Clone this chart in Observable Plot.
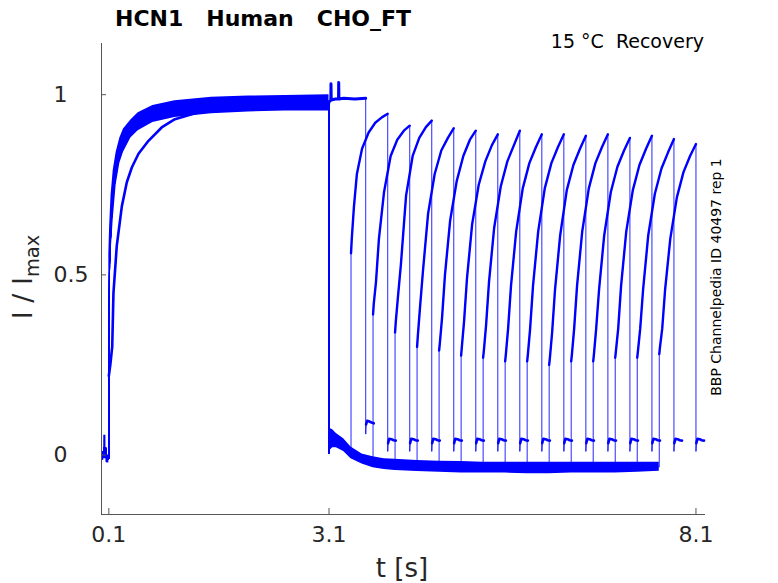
<!DOCTYPE html>
<html><head><meta charset="utf-8">
<script src="https://cdn.jsdelivr.net/npm/d3@7"></script>
<script src="https://cdn.jsdelivr.net/npm/@observablehq/plot@0.6"></script>
<style>
body{margin:0;background:#fff;font-family:"DejaVu Sans",sans-serif;}
#wrap{position:relative;width:778px;height:583px;overflow:hidden;}
.t{position:absolute;white-space:pre;line-height:1;color:#000;}
</style></head><body>
<div id="wrap">
<div id="chart"></div>
<div class="t" style="left:115px;top:8px;font-size:22px;font-weight:bold;">HCN1   Human   CHO_FT</div>
<div class="t" style="right:74px;top:31.5px;font-size:19px;">15 °C  Recovery</div>
<div class="t" style="left:402px;top:555px;font-size:26px;color:#262626;transform:translateX(-50%);">t [s]</div>
<div class="t" style="left:22px;top:277px;font-size:27px;color:#262626;transform:translate(-50%,-50%) rotate(-90deg);">I / I<span style="font-size:0.72em;position:relative;top:0.35em;">max</span></div>
<div class="t" style="left:716px;top:277px;font-size:14px;transform:translate(-50%,-50%) rotate(-90deg);">BBP Channelpedia ID 40497 rep 1</div>
</div>
<script>
// ---- data ----
const xTicks = [0.1, 3.1, 8.1];
const yTicks = [0, 0.5, 1];

// baseline before the first step
const preT     = [0, 0.02, 0.03, 0.031, 0.06, 0.061, 0.08, 0.1];
const preUpper = [0.012, 0.01, 0.01, 0.055, 0.055, 0.005, 0.0, 0.0];
const preLower = [-0.012, -0.015, -0.015, -0.01, -0.01, -0.02, -0.022, -0.022];
const preMid   = [0.0, -0.003, -0.003, 0.02, 0.02, -0.008, -0.011, -0.011];

// activation band (most sweeps)
const actT     = [0.1, 0.11, 0.13, 0.16, 0.2, 0.25, 0.3, 0.4, 0.5, 0.7, 1.0, 1.5, 2.0, 2.5, 3.1];
const actUpper = [0.56, 0.63, 0.72, 0.79, 0.84, 0.88, 0.905, 0.93, 0.95, 0.97, 0.983, 0.993, 0.996, 0.998, 1.0];
const actLower = [0.0, 0.42, 0.56, 0.655, 0.75, 0.81, 0.84, 0.88, 0.90, 0.923, 0.937, 0.947, 0.952, 0.955, 0.955];
const actMid   = [0.3, 0.53, 0.64, 0.72, 0.795, 0.845, 0.872, 0.905, 0.925, 0.947, 0.96, 0.97, 0.974, 0.976, 0.978];

// single slower activation trace
const slowT = [0.1, 0.12, 0.146, 0.163, 0.208, 0.277, 0.345, 0.413, 0.504, 0.64, 0.82, 1.0, 1.23, 1.46, 1.8, 2.4, 3.1];
const slowV = [0.22, 0.25, 0.30, 0.45, 0.58, 0.69, 0.757, 0.798, 0.836, 0.872, 0.909, 0.932, 0.946, 0.958, 0.966, 0.972, 0.975];
const slowSweep = 7;

// zero-interval sweep: stays activated until 3.6 s
const holdT = [3.1, 3.125, 3.127, 3.13, 3.23, 3.232, 3.235, 3.3, 3.45, 3.6];
const holdV = [0.98, 0.985, 1.03, 0.985, 0.99, 1.034, 0.988, 0.99, 0.988, 0.99];
const holdBumpV = [0.058, 0.085, 0.095, 0.093, 0.09, 0.088];

// deactivation tail band
const tailT     = [3.1, 3.15, 3.2, 3.3, 3.4, 3.55, 3.7, 3.85, 4.0, 4.3, 4.6, 4.9, 5.2, 5.5, 5.8, 6.1, 6.4, 6.7, 7.0, 7.3, 7.6];
const tailUpper = [0.075, 0.07, 0.06, 0.045, 0.022, 0.003, -0.005, -0.01, -0.012, -0.015, -0.017, -0.018, -0.02, -0.02, -0.02, -0.02, -0.02, -0.02, -0.02, -0.02, -0.02];
const tailLower = [0.01, 0.02, 0.02, 0.01, -0.01, -0.025, -0.035, -0.04, -0.043, -0.046, -0.048, -0.05, -0.05, -0.05, -0.052, -0.052, -0.05, -0.05, -0.05, -0.048, -0.045];
const tailMid   = [0.045, 0.045, 0.04, 0.028, 0.006, -0.011, -0.02, -0.025, -0.028, -0.031, -0.033, -0.034, -0.035, -0.035, -0.036, -0.036, -0.035, -0.035, -0.035, -0.034, -0.033];

// recovery test pulses
const pulseStart = [3.4, 3.7, 4.0, 4.3, 4.6, 4.9, 5.2, 5.5, 5.8, 6.1, 6.4, 6.7, 7.0, 7.3, 7.6];
const pulseRelT  = [0, 0.01, 0.04, 0.08, 0.15, 0.24, 0.33, 0.42, 0.5];
const pulseV = [
  [0.56, 0.60, 0.69, 0.78, 0.85, 0.895, 0.922, 0.937, 0.947],
  [0.39, 0.42, 0.48, 0.60, 0.73, 0.83, 0.875, 0.90, 0.914],
  [0.34, 0.37, 0.44, 0.53, 0.72, 0.83, 0.88, 0.91, 0.928],
  [0.30, 0.33, 0.41, 0.51, 0.67, 0.78, 0.845, 0.88, 0.907],
  [0.29, 0.31, 0.38, 0.50, 0.65, 0.76, 0.83, 0.875, 0.90],
  [0.276, 0.30, 0.37, 0.49, 0.64, 0.75, 0.815, 0.86, 0.89],
  [0.27, 0.29, 0.36, 0.48, 0.63, 0.745, 0.815, 0.86, 0.90],
  [0.26, 0.28, 0.35, 0.47, 0.62, 0.74, 0.81, 0.855, 0.89],
  [0.26, 0.28, 0.35, 0.47, 0.62, 0.74, 0.81, 0.855, 0.89],
  [0.25, 0.27, 0.34, 0.46, 0.61, 0.735, 0.805, 0.85, 0.886],
  [0.26, 0.28, 0.35, 0.47, 0.62, 0.74, 0.81, 0.855, 0.89],
  [0.26, 0.28, 0.35, 0.46, 0.61, 0.73, 0.80, 0.845, 0.88],
  [0.27, 0.29, 0.35, 0.47, 0.62, 0.735, 0.805, 0.85, 0.886],
  [0.27, 0.29, 0.35, 0.46, 0.61, 0.725, 0.795, 0.84, 0.877],
  [0.28, 0.30, 0.35, 0.46, 0.60, 0.715, 0.785, 0.83, 0.863]
];
const pulseDur = 0.5;
const bumpRelT = [0, 0.005, 0.02, 0.05, 0.08, 0.11];
const bumpV    = [0.01, 0.033, 0.045, 0.044, 0.041, 0.04];

// ---- build rows ----
const blue = "#0000ff";
const band = (T, lo, hi) => T.map((t, i) => ({t, lo: lo[i], hi: hi[i]}));
const preBand = band(preT, preLower, preUpper);
const actBand = band(actT, actLower, actUpper);
const tailBand = band(tailT, tailLower, tailUpper);
const slowRows = slowT.map((t, i) => ({t, v: slowV[i]}));

const lines = [], pulses = [], bumps = [], holds = [];
function addActivation(id) {
  preT.forEach((t, i) => lines.push({id, t, v: preMid[i]}));
  const T = id === slowSweep ? slowT : actT, V = id === slowSweep ? slowV : actMid;
  T.forEach((t, i) => lines.push({id, t, v: V[i]}));
}
pulseStart.forEach((s, k) => {
  const id = k;
  addActivation(id);
  lines.push({id, t: 3.1, v: 0.005});
  tailT.forEach((t, i) => { if (t <= s + 1e-9) lines.push({id, t, v: tailMid[i]}); });
  pulseRelT.forEach((r, i) => {
    lines.push({id, t: s + r, v: pulseV[k][i]});
    pulses.push({id, t: s + r, v: pulseV[k][i]});
  });
  const e = s + pulseDur;
  bumpRelT.forEach((r, i) => {
    lines.push({id, t: e + r, v: bumpV[i]});
    if (i > 0) bumps.push({id, t: e + r, v: bumpV[i]});
  });
});
{
  const id = "hold";
  addActivation(id);
  holdT.forEach((t, i) => { lines.push({id, t, v: holdV[i]}); holds.push({id, t, v: holdV[i]}); });
  const e = holdT[holdT.length - 1];
  bumpRelT.forEach((r, i) => {
    lines.push({id, t: e + r, v: holdBumpV[i]});
    if (i > 0) bumps.push({id, t: e + r, v: holdBumpV[i]});
  });
}

const axisColor = "#555";
const plot = Plot.plot({
  width: 778, height: 583,
  marginLeft: 101, marginRight: 73, marginTop: 43, marginBottom: 69,
  style: {fontFamily: "DejaVu Sans, sans-serif", fontSize: "22px", background: "transparent", color: "#262626"},
  x: {domain: [0, 8.23]},
  y: {domain: [-0.165, 1.142]},
  marks: [
    Plot.areaY(preBand, {x: "t", y1: "lo", y2: "hi", fill: blue}),
    Plot.areaY(actBand, {x: "t", y1: "lo", y2: "hi", fill: blue}),
    Plot.areaY(tailBand, {x: "t", y1: "lo", y2: "hi", fill: blue}),
    Plot.line(lines, {x: "t", y: "v", z: "id", stroke: blue, strokeWidth: 1, strokeOpacity: 0.85}),
    Plot.line(slowRows, {x: "t", y: "v", stroke: blue, strokeWidth: 2.6}),
    Plot.line(pulses, {x: "t", y: "v", z: "id", stroke: blue, strokeWidth: 2.4}),
    Plot.line(bumps, {x: "t", y: "v", z: "id", stroke: blue, strokeWidth: 2.6}),
    Plot.line(holds, {x: "t", y: "v", z: "id", stroke: blue, strokeWidth: 3}),
    Plot.ruleX([0], {stroke: axisColor}),
    Plot.ruleY([-0.165], {stroke: axisColor}),
    Plot.axisX(xTicks, {tickSize: -6, fill: "none", stroke: axisColor}),
    Plot.axisX(xTicks, {tickSize: 0, tickPadding: 12, stroke: "none", fill: "#262626", tickFormat: d => d.toString(), label: null}),
    Plot.axisY(yTicks, {tickSize: -5, fill: "none", stroke: axisColor}),
    Plot.axisY(yTicks, {tickSize: 0, tickPadding: 48, textAnchor: "start", stroke: "none", fill: "#262626", tickFormat: d => d.toString(), label: null})
  ]
});
document.getElementById("chart").appendChild(plot);
</script>
</body></html>
